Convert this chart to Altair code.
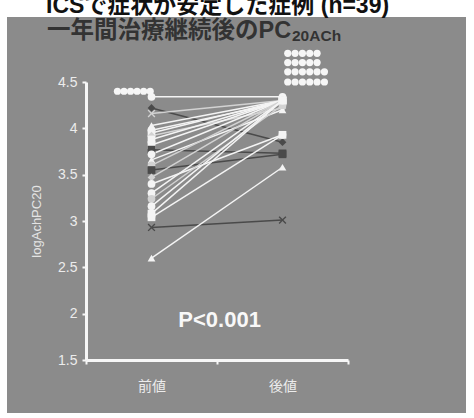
import altair as alt
import pandas as pd

# Per-patient logAchPC20 before and after one year of continued treatment
before = [4.34, 4.22, 4.16, 4.03, 3.98, 3.95, 3.92, 3.88, 3.82, 3.77, 3.72, 3.66,
          3.60, 3.55, 3.47, 3.40, 3.30, 3.24, 3.16, 3.08, 3.04, 2.93, 2.60]
after = [4.34, 3.85, 4.30, 4.30, 4.28, 4.30, 4.22, 4.30, 4.30, 3.73, 4.30, 4.20,
         4.30, 3.72, 4.30, 3.93, 4.30, 4.25, 4.30, 4.30, 3.93, 3.01, 3.58]
markers = ["circle", "diamond", "x", "triangle", "circle", "square", "diamond", "square",
           "square", "square", "circle", "triangle", "circle", "square", "diamond", "circle",
           "circle", "circle", "circle", "square", "square", "x", "triangle"]
tones = ["white", "dark", "light", "white", "white", "white", "light", "white",
         "white", "dark", "white", "white", "light", "dark", "light", "white",
         "white", "light", "white", "white", "white", "dark", "white"]

# Off-scale patients drawn as rows of stacked circles
before_stack_levels = [4.40]
before_stack_counts = [6]
after_stack_levels = [4.81, 4.71, 4.61, 4.50]
after_stack_counts = [5, 5, 6, 6]

categories = ["前値", "後値"]
cat_pos = [0.5, 1.5]
y_ticks = [1.5, 2.0, 2.5, 3.0, 3.5, 4.0, 4.5]

title_1 = "ICSで症状が安定した症例 (n=39)"
title_2 = "一年間治療継続後のPC"
title_2_sub = "20ACh"
p_text = "P<0.001"

# ---- tables -------------------------------------------------------------
rows = []
for i, (b, a, m, t) in enumerate(zip(before, after, markers, tones)):
    rows.append({"patient": i, "pos": cat_pos[0], "value": b, "marker": m, "tone": t})
    rows.append({"patient": i, "pos": cat_pos[1], "value": a, "marker": m, "tone": t})
df = pd.DataFrame(rows)

stack_rows = []
for lvl, n in zip(before_stack_levels, before_stack_counts):
    for k in range(n):
        stack_rows.append({"pos": 0.49 - k * 0.05, "value": lvl})
for lvl, n in zip(after_stack_levels, after_stack_counts):
    for k in range(n):
        stack_rows.append({"pos": 1.54 + k * 0.056, "value": lvl})
stack_df = pd.DataFrame(stack_rows)

p_df = pd.DataFrame({"pos": [1.02], "value": [1.93], "label": [p_text]})

# ---- shared encodings ---------------------------------------------------
axis_style = dict(grid=False, domainColor="#f6f6f6", domainWidth=3, tickColor="#f6f6f6",
                  tickWidth=2, tickSize=4, labelColor="#ececec", zindex=2)
label_expr = (f"datum.value == {cat_pos[0]} ? '{categories[0]}' : "
              f"datum.value == {cat_pos[1]} ? '{categories[1]}' : ''")
X = alt.X("pos:Q", scale=alt.Scale(domain=[0, 2], nice=False, zero=False),
          axis=alt.Axis(values=[0, 0.5, 1, 1.5, 2], labelExpr=label_expr, title=None,
                        tickOpacity={"condition": {"test": "datum.value % 1 === 0", "value": 1},
                                     "value": 0},
                        labelPadding=15, labelFontSize=14, labelOverlap=False,
                        labelFont="Noto Sans CJK JP", **axis_style))
Y = alt.Y("value:Q", scale=alt.Scale(domain=[1.5, 4.5], nice=False, zero=False),
          axis=alt.Axis(values=y_ticks, labelExpr="'' + datum.value", title="logAchPC20",
                        titleFontWeight="normal", titleFontSize=13, titleColor="#e4e4e4",
                        titleFont="Liberation Sans", titlePadding=14, labelPadding=5,
                        labelFont="Liberation Sans", labelFontSize=14, **axis_style))

tone_scale = alt.Scale(domain=["white", "light", "dark"], range=["#f4f4f4", "#d2d2d2", "#4a4a4a"])
x_path = ("M-1,-0.75L-0.75,-1L0,-0.25L0.75,-1L1,-0.75L0.25,0L1,0.75L0.75,1L0,0.25"
          "L-0.75,1L-1,0.75L-0.25,0Z")
shape_scale = alt.Scale(domain=["circle", "square", "triangle", "diamond", "x"],
                        range=["circle", "square", "triangle-up", "diamond", x_path])

one = alt.Data(values=[{}])

head_1 = alt.Chart(one).mark_text(
    text=title_1, align="left", baseline="alphabetic", fontSize=23, fontWeight="bold",
    font="Liberation Sans, Noto Sans CJK JP", color="#111111"
).encode(x=alt.value(-40), y=alt.value(-69))
head_2 = alt.Chart(one).mark_text(
    text=title_2, align="left", baseline="alphabetic", fontSize=23.5, fontWeight="bold",
    font="Liberation Sans, Noto Sans CJK JP", color="#333333"
).encode(x=alt.value(-39), y=alt.value(-44))
head_2_sub = alt.Chart(one).mark_text(
    text=title_2_sub, align="left", baseline="alphabetic", fontSize=15.5, fontWeight="bold",
    font="Liberation Sans", color="#333333"
).encode(x=alt.value(206), y=alt.value(-41))

lines = alt.Chart(df).mark_line(strokeWidth=1.5).encode(
    x=X, y=Y, detail="patient:N",
    color=alt.Color("tone:N", scale=tone_scale, legend=None))

points = alt.Chart(df).mark_point(filled=True, size=60, opacity=1).encode(
    x=X, y=Y,
    color=alt.Color("tone:N", scale=tone_scale, legend=None),
    shape=alt.Shape("marker:N", scale=shape_scale, legend=None))

stacks = alt.Chart(stack_df).mark_point(
    filled=True, shape="circle", size=52, color="#f6f6f6", opacity=1
).encode(x=X, y=Y)

p_label = alt.Chart(p_df).mark_text(
    fontSize=22, fontWeight="bold", font="Liberation Sans", color="#f8f8f8"
).encode(x=X, y=Y, text="label:N")

# Gray panel comes from the top-level background; the white margin strips
# around it are drawn as rects in the padding area.
white_left = alt.Chart(one).mark_rect(color="white").encode(
    x=alt.value(-86), x2=alt.value(-79), y=alt.value(-82), y2=alt.value(336))
white_right = alt.Chart(one).mark_rect(color="white").encode(
    x=alt.value(380), x2=alt.value(388), y=alt.value(-82), y2=alt.value(336))
white_top = alt.Chart(one).mark_rect(color="white").encode(
    x=alt.value(-86), x2=alt.value(388), y=alt.value(-82), y2=alt.value(-65))
white_bottom = alt.Chart(one).mark_rect(color="white").encode(
    x=alt.value(-86), x2=alt.value(388), y=alt.value(331), y2=alt.value(336))

chart = alt.layer(white_left, white_right, white_top, white_bottom,
                  head_1, head_2, head_2_sub, lines, points, stacks, p_label).properties(
    width=262, height=278,
    autosize=alt.AutoSizeParams(type="none"),
    padding={"left": 86, "top": 82, "right": 126, "bottom": 58},
    background="#8b8b8b",
).configure_view(stroke=None)

chart.save("out.html", embed_options={"renderer": "svg", "actions": False})
